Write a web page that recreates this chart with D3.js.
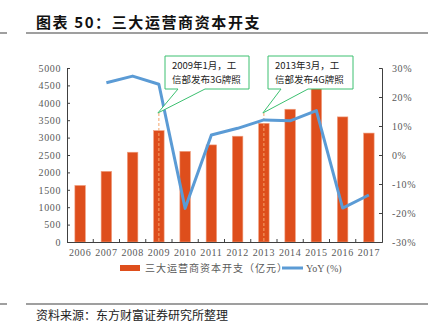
<!DOCTYPE html>
<html><head><meta charset="utf-8">
<script src="https://cdn.jsdelivr.net/npm/d3@7"></script>
<style>body{margin:0;background:#fff}svg{display:block}</style>
</head><body>
<script>
const years = ["2006","2007","2008","2009","2010","2011","2012","2013","2014","2015","2016","2017"];
const capex = [1625, 2030, 2580, 3200, 2605, 2790, 3040, 3410, 3815, 4420, 3595, 3130];
const yoy = [null, 24.9, 27.2, 24.4, -18.4, 6.9, 9.2, 12.1, 11.8, 15.3, -18.3, -13.8];
const leftTicks = [0,500,1000,1500,2000,2500,3000,3500,4000,4500,5000];
const rightTicks = [-30,-20,-10,0,10,20,30];
const notes = [
  {year:"2009", lines:["2009年1月，工","信部发布3G牌照"]},
  {year:"2013", lines:["2013年3月，工","信部发布4G牌照"]}
];
const title = "图表 50：三大运营商资本开支";
const source = "资料来源：东方财富证券研究所整理";
const legendBar = "三大运营商资本开支（亿元）";
const legendLine = "YoY (%)";

const W=428,H=336;
const svg=d3.select("body").append("svg").attr("width",W).attr("height",H);
const cjk='"Noto Sans CJK SC", sans-serif';
const serif='"Liberation Serif", "Times New Roman", serif';

// header / footer
svg.append("text").attr("x",36).attr("y",28).attr("font-family",cjk).attr("font-weight","bold")
  .attr("font-size",15).attr("letter-spacing",1.6).attr("fill","#111").text(title);
[33,304].forEach(y=>{
  svg.append("line").attr("x1",0).attr("x2",7).attr("y1",y).attr("y2",y).attr("stroke","#7f7f7f").attr("stroke-width",1.5);
  svg.append("line").attr("x1",26).attr("x2",428).attr("y1",y).attr("y2",y).attr("stroke","#7f7f7f").attr("stroke-width",1.5);
});
svg.append("text").attr("x",36).attr("y",320).attr("font-family",cjk).attr("font-size",12).attr("fill","#222").text(source);

const x0=67,x1=382,yTop=68,yBot=242;
const x=d3.scaleBand().domain(years).range([x0,x1]).paddingInner(0.6).paddingOuter(0.3);
const xc=d=>x(d)+x.bandwidth()/2;
const yL=d3.scaleLinear().domain([0,5000]).range([yBot,yTop]);
const yR=d3.scaleLinear().domain([-30,30]).range([yBot,yTop]);
const axisColor="#404040", labColor="#595959";

// bars
svg.append("g").selectAll("rect").data(capex).join("rect")
  .attr("x",(d,i)=>x(years[i])).attr("width",x.bandwidth())
  .attr("y",d=>yL(d)).attr("height",d=>yBot-yL(d))
  .attr("fill","#DE4E1C").attr("stroke","#F0A080").attr("stroke-width",0.6);

// dashed markers
notes.forEach(n=>{
  svg.append("line").attr("x1",xc(n.year)).attr("x2",xc(n.year)).attr("y1",113).attr("y2",yBot)
    .attr("stroke","#F4A46A").attr("stroke-width",1).attr("stroke-dasharray","3,2");
});

// axes
const gL=svg.append("g").attr("transform",`translate(${x0},0)`)
  .call(d3.axisLeft(yL).tickValues(leftTicks).tickSize(-3).tickPadding(6).tickFormat(d3.format("d")));
const gR=svg.append("g").attr("transform",`translate(${x1},0)`)
  .call(d3.axisRight(yR).tickValues(rightTicks).tickSize(-3).tickPadding(10).tickFormat(d=>d+"%"));
const gB=svg.append("g").attr("transform",`translate(0,${yBot})`)
  .call(d3.axisBottom(x).tickSize(0).tickPadding(7));
[gL,gR,gB].forEach(g=>{
  g.select(".domain").attr("stroke",axisColor);
  g.selectAll(".tick line").attr("stroke",axisColor);
  g.selectAll("text").attr("font-family",serif).attr("font-size",10).attr("fill",labColor).attr("letter-spacing",0.6);
});
// bottom inward ticks between categories
const step=x.step();
svg.append("g").selectAll("line").data(years.slice(1)).join("line")
  .attr("x1",d=>x(d)-(step-x.bandwidth())/2).attr("x2",d=>x(d)-(step-x.bandwidth())/2)
  .attr("y1",yBot).attr("y2",yBot-3).attr("stroke",axisColor);

// line
const pts=yoy.map((v,i)=>({v,y:years[i]})).filter(d=>d.v!==null);
svg.append("path").datum(pts)
  .attr("d",d3.line().x(d=>xc(d.y)).y(d=>yR(d.v)))
  .attr("fill","none").attr("stroke","#5B9BD5").attr("stroke-width",3).attr("stroke-linejoin","round");

// callouts
const boxes=[{bx:165,w:84},{bx:268,w:85}];
notes.forEach((n,i)=>{
  const b=boxes[i], by=56, bh=33;
  const tipX=xc(n.year)-1, tipY=113;
  const g=svg.append("g");
  g.append("path")
    .attr("d",`M${b.bx},${by} H${b.bx+b.w} V${by+bh} H${b.bx+40} L${tipX},${tipY} L${b.bx+13},${by+bh} H${b.bx} Z`)
    .attr("fill","#fff").attr("stroke","#3CC070").attr("stroke-width",1);
  n.lines.forEach((t,j)=>{
    g.append("text").attr("x",b.bx+7).attr("y",by+13+j*14).attr("font-family",cjk)
      .attr("font-size",9.5).attr("fill","#222").text(t);
  });
});

// legend
svg.append("rect").attr("x",120).attr("y",265).attr("width",20).attr("height",6).attr("fill","#DE4E1C");
svg.append("text").attr("x",145).attr("y",272).attr("font-family",cjk).attr("font-size",10).attr("fill",labColor).attr("letter-spacing",1).text(legendBar);
svg.append("line").attr("x1",282).attr("x2",303).attr("y1",268).attr("y2",268).attr("stroke","#5B9BD5").attr("stroke-width",3);
svg.append("text").attr("x",306).attr("y",272).attr("font-family",serif).attr("font-size",10).attr("fill",labColor).text(legendLine);
</script>
</body></html>
